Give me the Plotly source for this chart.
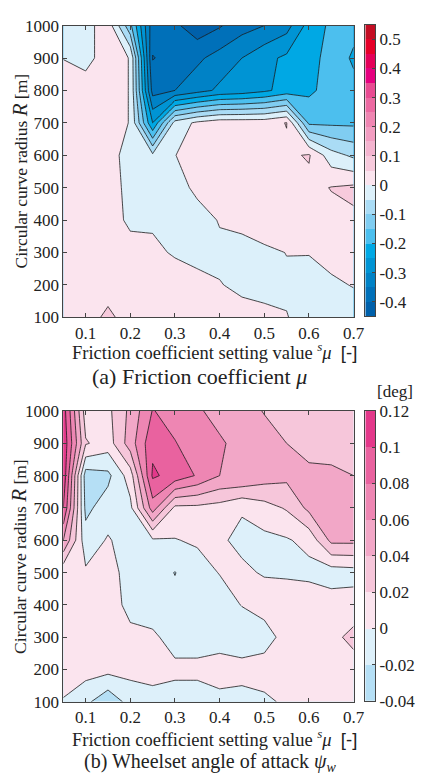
import plotly.graph_objects as go

# Grid: friction coefficient setting value (x) and circular curve radius (y)
mu_setting = [0.05, 0.1, 0.15, 0.2, 0.25, 0.3, 0.35, 0.4, 0.45, 0.5, 0.55, 0.6, 0.65, 0.7]
radius = [100, 200, 300, 400, 500, 600, 700, 800, 900, 1000]

# (a) friction coefficient mu, rows follow `radius`
mu_100 = [0.02, 0.03, 0.06, 0.03, 0.03, 0.03, 0.025, 0.02, 0.015, 0.01, 0.002, -0.02, -0.03, -0.03]
mu_200 = [0.02, 0.03, 0.03, 0.03, 0.03, 0.025, 0.02, 0.002, -0.009, -0.013, -0.008, -0.03, -0.01, 0.003]
mu_300 = [0.02, 0.03, 0.03, 0.025, 0.01, -0.005, -0.02, -0.01, -0.02, -0.01, 0.001, 0.003, 0.02, 0.02]
mu_400 = [0.02, 0.03, 0.03, -0.013, -0.007, -0.03, -0.02, 0.003, 0.015, 0.03, 0.03, 0.03, 0.035, 0.042]
mu_500 = [0.02, 0.03, 0.03, -0.02, -0.03, -0.02, 0.011, 0.02, 0.03, 0.03, 0.03, 0.035, 0.052, 0.06]
mu_600 = [0.02, 0.03, 0.03, -0.03, -0.04, -0.001, 0.02, 0.03, 0.03, 0.035, 0.04, 0.055, -0.03, -0.06]
mu_700 = [0.02, 0.03, 0.03, -0.003, -0.25, -0.03, 0.01, 0.03, 0.03, 0.03, 0.052, -0.16, -0.16, -0.16]
mu_800 = [0.02, 0.03, 0.03, -0.003, -0.37, -0.35, -0.32, -0.29, -0.28, -0.26, -0.23, -0.21, -0.18, -0.19]
mu_900 = [-0.001, -0.02, 0.03, -0.003, -0.402, -0.385, -0.36, -0.33, -0.30, -0.265, -0.24, -0.22, -0.18, -0.205]
mu_1000 = [-0.02, -0.02, 0.03, -0.137, -0.38, -0.39, -0.43, -0.405, -0.37, -0.35, -0.32, -0.23, -0.19, -0.19]
mu_z = [mu_100, mu_200, mu_300, mu_400, mu_500, mu_600, mu_700, mu_800, mu_900, mu_1000]

# (b) wheelset angle of attack psi_w [deg]
psi_100 = [-0.003, -0.015, -0.035, -0.012, -0.01, -0.012, -0.012, -0.008, -0.01, -0.006, 0.005, 0.01, 0.01, 0.01]
psi_200 = [0.02, 0.008, 0.006, 0.006, 0.01, 0.006, 0.006, 0.012, 0.01, 0.014, 0.015, 0.012, 0.012, 0.012]
psi_300 = [0.01, 0.01, 0.01, 0.005, 0.005, -0.011, -0.011, -0.012, -0.018, -0.0135, 0.012, 0.012, 0.015, 0.025]
psi_400 = [0.01, 0.01, 0.01, -0.006, -0.015, -0.015, -0.015, -0.012, 0.001, 0.012, 0.012, 0.015, 0.01, 0.01]
psi_500 = [0.005, 0.003, 0.01, -0.01, -0.012, -0.0205, -0.01, 0.001, 0.004, -0.002, -0.003, -0.006, -0.01, -0.008]
psi_600 = [0.06, -0.012, 0.002, -0.01, -0.003, -0.001, 0.003, 0.003, -0.005, -0.005, -0.002, 0.006, 0.045, 0.045]
psi_700 = [0.1, -0.025, -0.01, -0.005, 0.07, 0.015, 0.015, 0.012, 0.002, 0.012, 0.022, 0.045, 0.05, 0.05]
psi_800 = [0.115, -0.03, -0.025, 0.01, 0.103, 0.093, 0.078, 0.06, 0.06, 0.05, 0.045, 0.042, 0.042, 0.04]
psi_900 = [0.115, 0.022, 0.01, 0.05, 0.095, 0.081, 0.07, 0.062, 0.055, 0.048, 0.040, 0.037, 0.036, 0.035]
psi_1000 = [0.11, 0.01, 0.015, 0.045, 0.081, 0.072, 0.062, 0.055, 0.048, 0.039, 0.036, 0.034, 0.032, 0.03]
psi_z = [psi_100, psi_200, psi_300, psi_400, psi_500, psi_600, psi_700, psi_800, psi_900, psi_1000]

x_ticks = [0.1, 0.2, 0.3, 0.4, 0.5, 0.6, 0.7]
y_ticks = [100, 200, 300, 400, 500, 600, 700, 800, 900, 1000]
mu_cb_ticks = [-0.4, -0.3, -0.2, -0.1, 0, 0.1, 0.2, 0.3, 0.4, 0.5]
psi_cb_ticks = [-0.04, -0.02, 0, 0.02, 0.04, 0.06, 0.08, 0.1, 0.12]

# contour levels: lowest edge, step, number of bands
mu_levels = (-0.45, 0.05, 20)
psi_levels = (-0.04, 0.02, 8)

# band colours, lowest band first
mu_colors = ["#0060aa", "#0070b9", "#0082c6", "#0094d4", "#00a8e4", "#4cbfee",
             "#80cdf1", "#aadcf5", "#dcf0fa", "#fbe4ee", "#f7cadc", "#f4b4cf",
             "#f29dc1", "#ef86b2", "#ec6aa2", "#e84b92", "#e5007f", "#e40058",
             "#e60028", "#c30d23"]
psi_colors = ["#b5dff5", "#ddf0fa", "#fbe4ee", "#f6c6da", "#f2a7c7", "#ee86b3",
              "#e9629f", "#e3388a"]


def stepped(colors):
    n = len(colors)
    return [[i / (n - 1), c] for i, c in enumerate(colors)]


FONT = "Liberation Serif"
INK = "#222"
FRAME = "#444"

fig = go.Figure()


def add_panel(z, levels, colors, xa, ya, cxa, cya):
    lo, step, n = levels
    # filled contour; interior levels are lo+step ... lo+(n-1)*step
    fig.add_trace(go.Contour(
        x=mu_setting, y=radius, z=z, xaxis=xa, yaxis=ya,
        colorscale=stepped(colors), showscale=False,
        contours=dict(start=lo + step, end=lo + (n - 1) * step, size=step, coloring="fill"),
        line=dict(color="#1a1a1a", width=0.8, smoothing=0),
        hoverinfo="skip",
    ))
    # discrete colour key built from the same bands
    mids = [round(lo + (k + 0.5) * step, 6) for k in range(n)]
    fig.add_trace(go.Heatmap(
        x=[0], y=mids, z=[[m] for m in mids], xaxis=cxa, yaxis=cya,
        colorscale=stepped(colors), zmin=mids[0], zmax=mids[-1],
        showscale=False, hoverinfo="skip",
    ))


add_panel(mu_z, mu_levels, mu_colors, "x", "y", "x3", "y3")
add_panel(psi_z, psi_levels, psi_colors, "x2", "y2", "x4", "y4")

axis_common = dict(showline=True, linecolor=FRAME, linewidth=1, mirror="ticks",
                   ticks="inside", ticklen=4, tickcolor=FRAME, showgrid=False,
                   zeroline=False, tickfont=dict(family=FONT, size=17, color=INK))
key_x = dict(showline=True, linecolor=FRAME, linewidth=1, mirror=True, showticklabels=False,
             ticks="", showgrid=False, zeroline=False, range=[-0.5, 0.5])
key_y = dict(showline=True, linecolor=FRAME, linewidth=1, mirror=True, side="right",
             ticks="inside", ticklen=3, tickcolor=FRAME, showgrid=False, zeroline=False,
             tickfont=dict(family=FONT, size=17, color=INK))

top_dom = [1 - 316 / 784, 1 - 17 / 784]
bot_dom = [1 - 710 / 784, 1 - 412 / 784]
plot_dom = [65 / 425, 363 / 425]
key_dom = [375 / 425, 385 / 425]

fig.update_layout(
    width=425, height=784, margin=dict(l=0, r=0, t=0, b=0),
    paper_bgcolor="white", plot_bgcolor="white", showlegend=False,
    xaxis=dict(domain=plot_dom, range=[0.05, 0.7], tickvals=x_ticks, anchor="y", **axis_common),
    yaxis=dict(domain=top_dom, range=[100, 1000], tickvals=y_ticks, anchor="x", **axis_common),
    xaxis2=dict(domain=plot_dom, range=[0.05, 0.7], tickvals=x_ticks, anchor="y2", **axis_common),
    yaxis2=dict(domain=bot_dom, range=[100, 1000], tickvals=y_ticks, anchor="x2", **axis_common),
    xaxis3=dict(domain=key_dom, anchor="y3", **key_x),
    yaxis3=dict(domain=[1 - 315 / 784, 1 - 16 / 784], anchor="x3",
                range=[mu_levels[0], mu_levels[0] + mu_levels[1] * mu_levels[2]],
                tickvals=mu_cb_ticks, ticktext=[f"{v:g}" for v in mu_cb_ticks], **key_y),
    xaxis4=dict(domain=key_dom, anchor="y4", **key_x),
    yaxis4=dict(domain=[1 - 709 / 784, 1 - 412 / 784], anchor="x4",
                range=[psi_levels[0], psi_levels[0] + psi_levels[1] * psi_levels[2]],
                tickvals=psi_cb_ticks, ticktext=[f"{v:g}" for v in psi_cb_ticks], **key_y),
)

ytitle = "Circular curve radius <i><span style='font-size:21px'>R</span></i> [m]"
xtitle = ("Friction coefficient setting value <sup><i>s</i></sup><i>μ</i>  "
          "<span style='font-family:Liberation Sans'>[-]</span>")

notes = [
    dict(x=20, y=166, text=ytitle, angle=-90, size=17.5),
    dict(x=20, y=561, text=ytitle, angle=-90, size=17.5),
    dict(x=220, y=351, text=xtitle, angle=0, size=18.5),
    dict(x=220, y=747, text=xtitle, angle=0, size=18.5),
    dict(x=205, y=377, text="(a) Friction coefficient <i>μ</i>", angle=0, size=22),
    dict(x=216, y=772, text="(b) Wheelset angle of attack <i>ψ<sub>w</sub></i>", angle=0, size=20),
    dict(x=406, y=392, text="[deg]", angle=0, size=17),
]
for n in notes:
    fig.add_annotation(x=n["x"] / 425, y=1 - n["y"] / 784, xref="paper", yref="paper",
                       text=n["text"], showarrow=False, textangle=n["angle"],
                       xanchor="center", yanchor="middle",
                       font=dict(family=FONT, size=n["size"], color=INK))

fig.write_html("out.html")
